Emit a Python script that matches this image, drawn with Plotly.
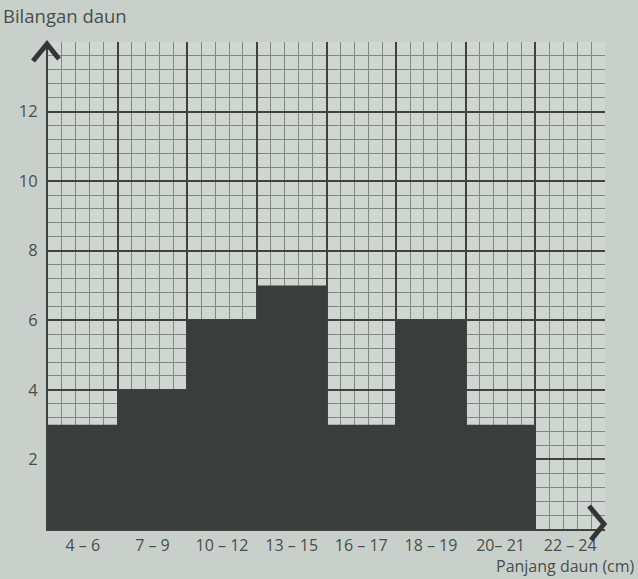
import plotly.graph_objects as go

categories = ["4 – 6", "7 – 9", "10 – 12", "13 – 15", "16 – 17", "18 – 19", "20– 21", "22 – 24"]
counts = [3, 4, 6, 7, 3, 6, 3, 0]
y_ticks = [0, 2, 4, 6, 8, 10, 12, 14]
y_ticktext = ["", "2", "4", "6", "8", "10", "12", ""]

n = len(categories)
centers = [i + 0.5 for i in range(n)]

W, H = 638, 579
ML, MR, MT, MB = 48, 33, 42, 50
pw, ph = W - ML - MR, H - MT - MB

def px(x):
    return (x - ML) / pw

def py(y):
    return (H - MB - y) / ph

bg = "#c9d0cc"
txt = "#4a4e4b"
fig = go.Figure()
fig.add_trace(go.Bar(
    x=centers, y=counts, width=1.0,
    marker=dict(color="#3a3d3b", line=dict(width=0)),
    xaxis="x", yaxis="y", hoverinfo="skip",
))
fig.add_trace(go.Scatter(x=centers, y=counts, xaxis="x2", yaxis="y",
                         mode="markers", marker=dict(opacity=0), hoverinfo="skip"))

fig.update_layout(
    width=W, height=H,
    margin=dict(l=ML, r=MR, t=MT, b=MB),
    paper_bgcolor=bg,
    plot_bgcolor="#d0d6d2",
    showlegend=False,
    font=dict(family="Open Sans", color=txt, size=16),
    xaxis=dict(
        range=[0, n], tickmode="linear", tick0=0, dtick=1,
        showticklabels=False, ticks="",
        showgrid=True, gridcolor="#3e4340", gridwidth=2,
        minor=dict(dtick=0.2, tick0=0, showgrid=True, gridcolor="#80877f", gridwidth=1),
        zeroline=False,
        showline=True, linecolor="#3e4340", linewidth=2, mirror=False,
    ),
    xaxis2=dict(
        range=[0, n], overlaying="x", side="bottom", anchor="y",
        tickmode="array", tickvals=centers, ticktext=categories,
        showgrid=False, zeroline=False, ticks="", ticklabelstandoff=5,
        tickfont=dict(size=16, color=txt),
    ),
    yaxis=dict(
        range=[0, 14], tickmode="array", tickvals=y_ticks, ticktext=y_ticktext,
        showgrid=True, gridcolor="#3e4340", gridwidth=2,
        minor=dict(dtick=0.4, tick0=0, showgrid=True, gridcolor="#80877f", gridwidth=1),
        zeroline=False, ticks="", ticklabelstandoff=5,
        showline=True, linecolor="#3e4340", linewidth=2,
        tickfont=dict(size=16.5, color=txt),
    ),
    shapes=[
        dict(type="path", xref="paper", yref="paper",
             path=f"M {px(33)} {py(61)} L {px(47)} {py(44)} L {px(59)} {py(59)}",
             line=dict(color="#333634", width=5)),
        dict(type="path", xref="paper", yref="paper",
             path=f"M {px(589)} {py(506)} L {px(604)} {py(524)} L {px(591)} {py(540)}",
             line=dict(color="#333634", width=5)),
    ],
    annotations=[
        dict(text="Bilangan daun", xref="paper", yref="paper", x=px(1), y=py(16),
             xanchor="left", yanchor="middle", showarrow=False,
             font=dict(size=18.5, color=txt)),
        dict(text="Panjang daun (cm)", xref="paper", yref="paper", x=px(637), y=py(579),
             xanchor="right", yanchor="bottom", showarrow=False,
             font=dict(size=16, color=txt)),
    ],
)

fig.write_html(
    "out.html",
    config={"displayModeBar": False},
    post_script=f"document.body.style.margin='0';document.body.style.background='{bg}';"
                "document.body.style.overflow='hidden';",
)
